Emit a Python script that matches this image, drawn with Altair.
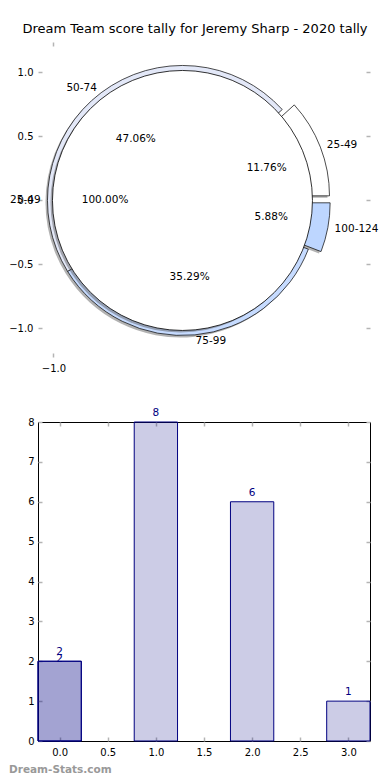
import json
import altair as alt
import pandas as pd

# ---------------- data ----------------
TITLE = "Dream Team score tally for Jeremy Sharp - 2020 tally"
WATERMARK = "Dream-Stats.com"

ring_labels = ["25-49", "50-74", "75-99", "100-124"]
ring_counts = [2, 8, 6, 1]

inner_labels = ["25-49"]
inner_counts = [17]

bar_positions = [0, 0, 1, 2, 3]
bar_counts = [2, 2, 8, 6, 1]

top_y_ticks = [-1.0, -0.5, 0.0, 0.5, 1.0]
top_x_ticks = [-1.0]
bar_x_ticks = [0.0, 0.5, 1.0, 1.5, 2.0, 2.5, 3.0]
bar_y_ticks = [0, 1, 2, 3, 4, 5, 6, 7, 8]

# ---------------- style ----------------
FONT = "DejaVu Sans"
NAVY = "#000080"
TICK = "#b4b4b4"
SHADOW = "#555555"
ring_colors = ["#ffffff", "#e3e8f8", "#c6dbff", "#bdd6ff"]
exploded_slices = ["25-49", "100-124"]
EXPLODE = 0.1
R_IN = 130
R_OUT = 135
BAR_HALF = 0.225
W = 332
H_TOP = 315
H_BOT = 319

top_xs = alt.Scale(domain=[-1.12, 1.454], nice=False, zero=False)
top_ys = alt.Scale(domain=[-1.223, 1.238], nice=False, zero=False)
bar_xs = alt.Scale(domain=[-0.225, 3.225], nice=False, zero=False)
bar_ys = alt.Scale(domain=[0, 8], nice=False, zero=True)


def make_axis(orient, values, fmt=None, labels=True, pad=5):
    kw = dict(orient=orient, values=values, offset=-4, tickSize=4, tickWidth=1.5,
              tickColor=TICK, domain=False, grid=False, labels=labels,
              labelFont=FONT, labelFontSize=10, labelColor="black",
              labelPadding=pad, labelFlush=False, labelOverlap=False)
    if fmt:
        kw["format"] = fmt
    return alt.Axis(**kw)


def tx(field, axis=None):
    return alt.X(f"{field}:Q", scale=top_xs, axis=axis, title=None)


def ty(field, axis=None):
    return alt.Y(f"{field}:Q", scale=top_ys, axis=axis, title=None)


def pie_base(df, explode_expr):
    return (
        alt.Chart(df)
        .transform_window(cum="sum(count)", sort=[alt.SortField("idx")])
        .transform_joinaggregate(total="sum(count)")
        .transform_calculate(
            f0="(datum.cum - datum.count) / datum.total",
            f1="datum.cum / datum.total",
            phi="2 * PI * (datum.cum - datum.count / 2) / datum.total",
            ex=explode_expr,
        )
        .transform_calculate(
            a0="PI / 2 - 2 * PI * datum.f0",
            a1="PI / 2 - 2 * PI * datum.f1",
            cx="datum.ex * cos(datum.phi)",
            cy="datum.ex * sin(datum.phi)",
        )
        .transform_calculate(
            lx="datum.cx + 1.1 * cos(datum.phi)",
            ly="datum.cy + 1.1 * sin(datum.phi)",
            px="datum.cx + 0.6 * cos(datum.phi)",
            py="datum.cy + 0.6 * sin(datum.phi)",
            pct="format(100 * datum.count / datum.total, '.2f') + '%'",
            side="cos(datum.phi) > 1e-9 ? 'right' : 'left'",
        )
    )


ring_df = pd.DataFrame({"label": ring_labels, "count": ring_counts,
                        "idx": list(range(len(ring_labels)))})
inner_df = pd.DataFrame({"label": inner_labels, "count": inner_counts,
                         "idx": list(range(len(inner_labels)))})

ring_base = pie_base(
    ring_df,
    f"indexof({json.dumps(exploded_slices)}, datum.label) >= 0 ? {EXPLODE} : 0",
)
inner_base = pie_base(inner_df, "0")

arc_enc = dict(theta=alt.Theta("a0:Q", scale=None), theta2=alt.Theta2("a1"),
               x=tx("cx"), y=ty("cy"))

axes_main = ring_base.mark_point(opacity=0).encode(
    x=tx("cx", make_axis("bottom", top_x_ticks, ".1f", pad=6)),
    y=ty("cy", make_axis("left", top_y_ticks, ".1f", pad=5)),
)
axes_twin = ring_base.mark_point(opacity=0).encode(
    x=tx("cx", make_axis("top", top_x_ticks, labels=False)),
    y=ty("cy", make_axis("right", top_y_ticks, labels=False)),
)

ring_shadow = ring_base.mark_arc(radius=R_OUT, fill=SHADOW, opacity=0.45,
                                 xOffset=-2, yOffset=2).encode(**arc_enc)
ring = ring_base.mark_arc(radius=R_OUT, stroke="black", strokeWidth=0.7).encode(
    color=alt.Color("label:N", scale=alt.Scale(domain=ring_labels, range=ring_colors),
                    legend=None),
    **arc_enc,
)
inner_shadow = inner_base.mark_arc(radius=R_IN, fill=SHADOW, opacity=0.45,
                                   xOffset=-2, yOffset=2).encode(**arc_enc)
inner = inner_base.mark_arc(radius=R_IN, fill="white", stroke="black",
                            strokeWidth=0.8).encode(**arc_enc)


def label_layers(base):
    txt = dict(font=FONT, fontSize=10.5, color="black", baseline="middle")
    left = base.transform_filter("datum.side == 'left'").mark_text(align="right", **txt).encode(
        x=tx("lx"), y=ty("ly"), text="label:N")
    right = base.transform_filter("datum.side == 'right'").mark_text(align="left", **txt).encode(
        x=tx("lx"), y=ty("ly"), text="label:N")
    pct = base.mark_text(align="center", **txt).encode(x=tx("px"), y=ty("py"), text="pct:N")
    return [left, right, pct]


top = (
    alt.layer(axes_main, axes_twin, ring_shadow, ring, inner_shadow, inner,
              *label_layers(ring_base), *label_layers(inner_base))
    .resolve_axis(x="independent", y="independent")
    .properties(
        width=W, height=H_TOP,
        title=alt.TitleParams(TITLE, font=FONT, fontSize=13, fontWeight="normal",
                              color="black", anchor="middle", offset=5, dx=-9),
    )
)

# ---------------- bar panel ----------------
bar_df = pd.DataFrame({"pos": bar_positions, "count": bar_counts})
bar_base = (
    alt.Chart(bar_df)
    .transform_window(row="row_number()")
    .transform_calculate(x0=f"datum.pos - {BAR_HALF}", x1=f"datum.pos + {BAR_HALF}")
)


def bx(field, axis=None):
    return alt.X(f"{field}:Q", scale=bar_xs, axis=axis, title=None)


def by(field, axis=None):
    return alt.Y(f"{field}:Q", scale=bar_ys, axis=axis, title=None, stack=None)


bar_axes_main = bar_base.mark_point(opacity=0).encode(
    x=bx("pos", make_axis("bottom", bar_x_ticks, ".1f", pad=6)),
    y=by("count", make_axis("left", bar_y_ticks, "d", pad=4)),
)
bar_axes_twin = bar_base.mark_point(opacity=0).encode(
    x=bx("pos", make_axis("top", bar_x_ticks, labels=False)),
    y=by("count", make_axis("right", bar_y_ticks, labels=False)),
)
bars = bar_base.mark_bar(fill=NAVY, fillOpacity=0.2, stroke=NAVY, strokeWidth=1).encode(
    x=bx("x0"), x2=alt.X2("x1"), y=by("count"), y2=alt.datum(0)
)
btxt = dict(font=FONT, fontSize=10.5, color=NAVY, baseline="middle", align="center")
bar_labels = bar_base.transform_filter("datum.row != 1").mark_text(dy=-9, **btxt).encode(
    x=bx("pos"), y=by("count"), text="count:Q")
bar_labels_dup = bar_base.transform_filter("datum.row == 1").mark_text(dy=-2, **btxt).encode(
    x=bx("pos"), y=by("count"), text="count:Q")

bottom = (
    alt.layer(bar_axes_main, bar_axes_twin, bars, bar_labels, bar_labels_dup)
    .resolve_axis(x="independent", y="independent")
    .properties(
        width=W, height=H_BOT,
        view=alt.ViewBackground(stroke="black", strokeWidth=1),
        title=alt.TitleParams(WATERMARK, orient="bottom", anchor="start", frame="group",
                              dx=-29, offset=8, font=FONT, fontSize=10.5,
                              fontWeight="bold", color="#999999"),
    )
)

chart = (
    alt.vconcat(top, bottom, spacing=34)
    .properties(padding={"left": 0, "top": 15, "right": 0, "bottom": 0})
    .configure_view(stroke=None)
)

chart.save("out.html", embed_options={"renderer": "svg", "actions": False})
